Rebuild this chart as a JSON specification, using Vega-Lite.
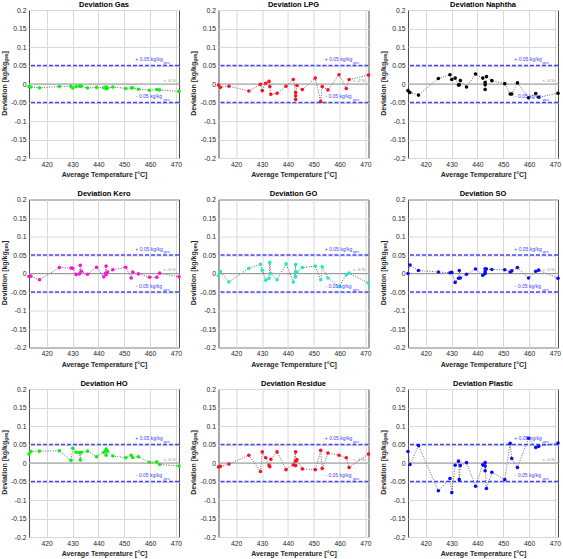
{
"$schema": "https://vega.github.io/schema/vega-lite/v6.json",
"padding": {"left": 0, "top": 0, "right": 0, "bottom": 0},
"background": "white",
"data": {"values": [
{"p":"Gas","x":413.15,"y":-0.007},{"p":"Gas","x":413.9,"y":-0.008},{"p":"Gas","x":417.2,"y":-0.010},{"p":"Gas","x":424.9,"y":-0.007},{"p":"Gas","x":429.4,"y":-0.006},{"p":"Gas","x":430.1,"y":-0.011},{"p":"Gas","x":431.4,"y":-0.007},{"p":"Gas","x":432.7,"y":-0.006},{"p":"Gas","x":433.0,"y":-0.005},{"p":"Gas","x":433.4,"y":-0.006},{"p":"Gas","x":435.8,"y":-0.011},{"p":"Gas","x":439.3,"y":-0.009},{"p":"Gas","x":442.1,"y":-0.010},{"p":"Gas","x":443.0,"y":-0.008},{"p":"Gas","x":443.0,"y":-0.011},{"p":"Gas","x":443.0,"y":-0.013},{"p":"Gas","x":443.5,"y":-0.011},{"p":"Gas","x":445.6,"y":-0.008},{"p":"Gas","x":450.6,"y":-0.012},{"p":"Gas","x":452.7,"y":-0.011},{"p":"Gas","x":453.3,"y":-0.010},{"p":"Gas","x":455.5,"y":-0.014},{"p":"Gas","x":459.8,"y":-0.017},{"p":"Gas","x":462.6,"y":-0.015},{"p":"Gas","x":463.7,"y":-0.016},{"p":"Gas","x":471.2,"y":-0.020},
{"p":"LPG","x":413.15,"y":-0.003},{"p":"LPG","x":413.9,"y":-0.009},{"p":"LPG","x":417.2,"y":-0.006},{"p":"LPG","x":424.9,"y":-0.019},{"p":"LPG","x":429.4,"y":-0.001},{"p":"LPG","x":430.1,"y":-0.018},{"p":"LPG","x":431.4,"y":0.002},{"p":"LPG","x":432.7,"y":0.007},{"p":"LPG","x":433.0,"y":-0.007},{"p":"LPG","x":433.4,"y":-0.028},{"p":"LPG","x":435.8,"y":-0.025},{"p":"LPG","x":439.3,"y":-0.006},{"p":"LPG","x":442.1,"y":0.012},{"p":"LPG","x":443.0,"y":-0.023},{"p":"LPG","x":443.0,"y":-0.032},{"p":"LPG","x":443.0,"y":-0.042},{"p":"LPG","x":443.5,"y":-0.004},{"p":"LPG","x":445.6,"y":-0.015},{"p":"LPG","x":450.6,"y":0.016},{"p":"LPG","x":452.7,"y":-0.047},{"p":"LPG","x":453.3,"y":-0.007},{"p":"LPG","x":455.5,"y":-0.016},{"p":"LPG","x":459.8,"y":0.025},{"p":"LPG","x":462.6,"y":-0.012},{"p":"LPG","x":463.7,"y":0.012},{"p":"LPG","x":471.2,"y":0.024},
{"p":"Naphtha","x":413.15,"y":-0.018},{"p":"Naphtha","x":413.9,"y":-0.023},{"p":"Naphtha","x":417.2,"y":-0.030},{"p":"Naphtha","x":424.9,"y":0.015},{"p":"Naphtha","x":429.4,"y":0.025},{"p":"Naphtha","x":430.1,"y":0.012},{"p":"Naphtha","x":431.4,"y":0.016},{"p":"Naphtha","x":432.7,"y":-0.003},{"p":"Naphtha","x":433.0,"y":-0.002},{"p":"Naphtha","x":433.4,"y":0.009},{"p":"Naphtha","x":435.8,"y":-0.008},{"p":"Naphtha","x":439.3,"y":0.027},{"p":"Naphtha","x":442.1,"y":0.016},{"p":"Naphtha","x":443.0,"y":0.004},{"p":"Naphtha","x":443.0,"y":-0.002},{"p":"Naphtha","x":443.0,"y":-0.015},{"p":"Naphtha","x":443.5,"y":0.020},{"p":"Naphtha","x":445.6,"y":0.009},{"p":"Naphtha","x":450.6,"y":0.001},{"p":"Naphtha","x":452.7,"y":-0.027},{"p":"Naphtha","x":453.3,"y":-0.027},{"p":"Naphtha","x":455.5,"y":0.003},{"p":"Naphtha","x":459.8,"y":-0.037},{"p":"Naphtha","x":462.6,"y":-0.026},{"p":"Naphtha","x":463.7,"y":-0.036},{"p":"Naphtha","x":471.2,"y":-0.025},
{"p":"Kero","x":413.15,"y":-0.008},{"p":"Kero","x":413.9,"y":-0.007},{"p":"Kero","x":417.2,"y":-0.017},{"p":"Kero","x":424.9,"y":0.016},{"p":"Kero","x":429.4,"y":0.015},{"p":"Kero","x":430.1,"y":0.014},{"p":"Kero","x":431.4,"y":-0.003},{"p":"Kero","x":432.7,"y":-0.001},{"p":"Kero","x":433.0,"y":0.022},{"p":"Kero","x":433.4,"y":0.006},{"p":"Kero","x":435.8,"y":-0.002},{"p":"Kero","x":439.3,"y":0.017},{"p":"Kero","x":442.1,"y":-0.009},{"p":"Kero","x":443.0,"y":0.020},{"p":"Kero","x":443.0,"y":-0.003},{"p":"Kero","x":443.0,"y":0.001},{"p":"Kero","x":443.5,"y":0.004},{"p":"Kero","x":445.6,"y":0.010},{"p":"Kero","x":450.6,"y":0.017},{"p":"Kero","x":452.7,"y":-0.012},{"p":"Kero","x":453.3,"y":0.004},{"p":"Kero","x":455.5,"y":-0.001},{"p":"Kero","x":459.8,"y":-0.010},{"p":"Kero","x":462.6,"y":-0.010},{"p":"Kero","x":463.7,"y":0.001},{"p":"Kero","x":471.2,"y":-0.009},
{"p":"GO","x":413.15,"y":-0.006},{"p":"GO","x":413.9,"y":0.005},{"p":"GO","x":417.2,"y":-0.023},{"p":"GO","x":424.9,"y":0.014},{"p":"GO","x":429.4,"y":0.025},{"p":"GO","x":430.1,"y":0.009},{"p":"GO","x":431.4,"y":-0.018},{"p":"GO","x":432.7,"y":-0.013},{"p":"GO","x":433.0,"y":0.030},{"p":"GO","x":433.4,"y":0.000},{"p":"GO","x":435.8,"y":-0.017},{"p":"GO","x":439.3,"y":0.026},{"p":"GO","x":442.1,"y":-0.023},{"p":"GO","x":443.0,"y":0.024},{"p":"GO","x":443.0,"y":-0.009},{"p":"GO","x":443.0,"y":0.003},{"p":"GO","x":443.5,"y":0.004},{"p":"GO","x":445.6,"y":0.016},{"p":"GO","x":450.6,"y":0.020},{"p":"GO","x":452.7,"y":-0.017},{"p":"GO","x":453.3,"y":0.018},{"p":"GO","x":455.5,"y":-0.012},{"p":"GO","x":459.8,"y":-0.035},{"p":"GO","x":462.6,"y":-0.003},{"p":"GO","x":463.7,"y":0.001},{"p":"GO","x":471.2,"y":-0.026},
{"p":"SO","x":413.15,"y":0.000},{"p":"SO","x":413.9,"y":0.023},{"p":"SO","x":417.2,"y":0.008},{"p":"SO","x":424.9,"y":0.004},{"p":"SO","x":429.4,"y":0.002},{"p":"SO","x":430.1,"y":0.003},{"p":"SO","x":431.4,"y":-0.024},{"p":"SO","x":432.7,"y":-0.013},{"p":"SO","x":433.0,"y":0.008},{"p":"SO","x":433.4,"y":-0.012},{"p":"SO","x":435.8,"y":-0.002},{"p":"SO","x":439.3,"y":0.012},{"p":"SO","x":442.1,"y":-0.005},{"p":"SO","x":443.0,"y":0.000},{"p":"SO","x":443.0,"y":0.005},{"p":"SO","x":443.0,"y":0.013},{"p":"SO","x":443.5,"y":0.012},{"p":"SO","x":445.6,"y":0.011},{"p":"SO","x":450.6,"y":0.010},{"p":"SO","x":452.7,"y":0.004},{"p":"SO","x":453.3,"y":0.007},{"p":"SO","x":455.5,"y":0.016},{"p":"SO","x":459.8,"y":-0.012},{"p":"SO","x":462.6,"y":0.006},{"p":"SO","x":463.7,"y":0.009},{"p":"SO","x":471.2,"y":-0.013},
{"p":"HO","x":413.15,"y":0.024},{"p":"HO","x":413.9,"y":0.031},{"p":"HO","x":417.2,"y":0.032},{"p":"HO","x":424.9,"y":0.033},{"p":"HO","x":429.4,"y":0.007},{"p":"HO","x":430.1,"y":0.040},{"p":"HO","x":431.4,"y":0.029},{"p":"HO","x":432.7,"y":0.028},{"p":"HO","x":433.0,"y":0.008},{"p":"HO","x":433.4,"y":0.029},{"p":"HO","x":435.8,"y":0.032},{"p":"HO","x":439.3,"y":0.017},{"p":"HO","x":442.1,"y":0.029},{"p":"HO","x":443.0,"y":0.038},{"p":"HO","x":443.0,"y":0.034},{"p":"HO","x":443.0,"y":0.021},{"p":"HO","x":443.5,"y":0.032},{"p":"HO","x":445.6,"y":0.019},{"p":"HO","x":450.6,"y":0.014},{"p":"HO","x":452.7,"y":0.021},{"p":"HO","x":453.3,"y":0.015},{"p":"HO","x":455.5,"y":0.017},{"p":"HO","x":459.8,"y":0.002},{"p":"HO","x":462.6,"y":0.003},{"p":"HO","x":463.7,"y":-0.004},{"p":"HO","x":471.2,"y":-0.008},
{"p":"Residue","x":413.15,"y":-0.011},{"p":"Residue","x":413.9,"y":-0.009},{"p":"Residue","x":417.2,"y":-0.003},{"p":"Residue","x":424.9,"y":0.021},{"p":"Residue","x":429.4,"y":-0.023},{"p":"Residue","x":430.1,"y":0.030},{"p":"Residue","x":431.4,"y":0.014},{"p":"Residue","x":432.7,"y":-0.006},{"p":"Residue","x":433.0,"y":-0.010},{"p":"Residue","x":433.4,"y":0.010},{"p":"Residue","x":435.8,"y":0.030},{"p":"Residue","x":439.3,"y":-0.018},{"p":"Residue","x":442.1,"y":-0.005},{"p":"Residue","x":443.0,"y":0.030},{"p":"Residue","x":443.0,"y":-0.007},{"p":"Residue","x":443.0,"y":0.005},{"p":"Residue","x":443.5,"y":0.009},{"p":"Residue","x":445.6,"y":-0.016},{"p":"Residue","x":450.6,"y":-0.018},{"p":"Residue","x":452.7,"y":0.034},{"p":"Residue","x":453.3,"y":-0.015},{"p":"Residue","x":455.5,"y":0.027},{"p":"Residue","x":459.8,"y":0.021},{"p":"Residue","x":462.6,"y":0.014},{"p":"Residue","x":463.7,"y":-0.012},{"p":"Residue","x":471.2,"y":0.024},
{"p":"Plastic","x":413.15,"y":0.031},{"p":"Plastic","x":413.9,"y":-0.004},{"p":"Plastic","x":417.2,"y":0.047},{"p":"Plastic","x":424.9,"y":-0.075},{"p":"Plastic","x":429.4,"y":-0.042},{"p":"Plastic","x":430.1,"y":-0.080},{"p":"Plastic","x":431.4,"y":-0.006},{"p":"Plastic","x":432.7,"y":0.005},{"p":"Plastic","x":433.0,"y":-0.045},{"p":"Plastic","x":433.4,"y":-0.007},{"p":"Plastic","x":435.8,"y":0.001},{"p":"Plastic","x":439.3,"y":-0.063},{"p":"Plastic","x":442.1,"y":-0.005},{"p":"Plastic","x":443.0,"y":-0.008},{"p":"Plastic","x":443.0,"y":-0.021},{"p":"Plastic","x":443.0,"y":0.001},{"p":"Plastic","x":443.5,"y":-0.069},{"p":"Plastic","x":445.6,"y":-0.025},{"p":"Plastic","x":450.6,"y":-0.045},{"p":"Plastic","x":452.7,"y":0.053},{"p":"Plastic","x":453.3,"y":0.012},{"p":"Plastic","x":455.5,"y":-0.012},{"p":"Plastic","x":459.8,"y":0.067},{"p":"Plastic","x":462.6,"y":0.042},{"p":"Plastic","x":463.7,"y":0.045},{"p":"Plastic","x":471.2,"y":0.054}
]},
"facet": {"field": "p", "type": "nominal", "sort": ["Gas","LPG","Naphtha","Kero","GO","SO","HO","Residue","Plastic"],
  "header": {"title": null, "labelExpr": "'Deviation ' + datum.value", "labelFont": "Liberation Sans", "labelFontWeight": "bold", "labelFontSize": 7.5, "labelColor": "#000000", "labelPadding": -1}},
"columns": 3,
"spacing": {"row": 10.5, "column": 6.5},
"resolve": {"axis": {"x": "independent", "y": "independent"}},
"spec": {
  "width": 150, "height": 148,
  "layer": [
    {"mark": {"type": "line", "color": "#505050", "strokeWidth": 0.9, "strokeDash": [1, 1.5]},
     "encoding": {
       "x": {"field": "x", "type": "quantitative", "scale": {"domain": [413.15, 471.2], "nice": false, "zero": false},
             "axis": {"values": [420, 430, 440, 450, 460, 470], "tickCount": 6, "labelOverlap": false, "grid": true, "title": "Average Temperature [°C]", "titlePadding": 3, "labelPadding": 3}},
       "y": {"field": "y", "type": "quantitative", "scale": {"domain": [-0.2, 0.2], "nice": false, "zero": false},
             "axis": {"values": [-0.2, -0.15, -0.1, -0.05, 0, 0.05, 0.1, 0.15, 0.2], "tickCount": 9, "labelOverlap": false, "grid": true, "title": null, "labelPadding": 3,
                      "labelExpr": "toString(round(datum.value * 100) / 100)"}}}},
    {"transform": [{"filter": "datum.x > 471"}],
     "mark": {"type": "rule", "color": "#9a9a9a", "strokeWidth": 1.2},
     "encoding": {"y": {"datum": 0}}},
    {"transform": [{"filter": "datum.x > 471"}],
     "mark": {"type": "rule", "color": "#4545ff", "strokeWidth": 1.3, "strokeDash": [4, 2]},
     "encoding": {"y": {"datum": 0.05}}},
    {"transform": [{"filter": "datum.x > 471"}],
     "mark": {"type": "rule", "color": "#4545ff", "strokeWidth": 1.3, "strokeDash": [4, 2]},
     "encoding": {"y": {"datum": -0.05}}},
    {"mark": {"type": "point", "filled": true, "shape": "circle", "size": 13, "opacity": 1},
     "encoding": {
       "x": {"field": "x", "type": "quantitative"},
       "y": {"field": "y", "type": "quantitative"},
       "color": {"field": "p", "type": "nominal", "legend": null,
                 "scale": {"domain": ["Gas","LPG","Naphtha","Kero","GO","SO","HO","Residue","Plastic"],
                           "range": ["#10f010","#ff1020","#000000","#ff10d8","#20e8c8","#0a0aff","#10f010","#ff1020","#0a0aff"]}}}},
    {"transform": [{"filter": "datum.x > 471"}],
     "mark": {"type": "text", "color": "#4040ff", "fontSize": 5, "align": "left", "baseline": "alphabetic"},
     "encoding": {"x": {"datum": 454.3}, "y": {"datum": 0.062}, "text": {"value": "+ 0.05 kg/kg"}}},
    {"transform": [{"filter": "datum.x > 471"}],
     "mark": {"type": "text", "color": "#4040ff", "fontSize": 3.8, "align": "left", "baseline": "alphabetic"},
     "encoding": {"x": {"datum": 465.2}, "y": {"datum": 0.0546}, "text": {"value": "ges"}}},
    {"transform": [{"filter": "datum.x > 471"}],
     "mark": {"type": "text", "color": "#4040ff", "fontSize": 5, "align": "left", "baseline": "alphabetic"},
     "encoding": {"x": {"datum": 454.5}, "y": {"datum": -0.039}, "text": {"value": "- 0.05 kg/kg"}}},
    {"transform": [{"filter": "datum.x > 471"}],
     "mark": {"type": "text", "color": "#4040ff", "fontSize": 3.8, "align": "left", "baseline": "alphabetic"},
     "encoding": {"x": {"datum": 465.2}, "y": {"datum": -0.046}, "text": {"value": "ges"}}},
    {"transform": [{"filter": "datum.x > 471"}],
     "mark": {"type": "text", "color": "#777777", "fontSize": 4.2, "align": "left", "baseline": "middle"},
     "encoding": {"x": {"datum": 465.2}, "y": {"datum": 0.0083}, "text": {"value": "<- 0 %"}}},
    {"transform": [{"filter": "datum.x > 471"}],
     "mark": {"type": "text", "color": "#262626", "fontSize": 7, "fontWeight": "bold", "align": "left", "baseline": "middle", "angle": 270, "clip": false},
     "encoding": {"x": {"datum": 403.85}, "y": {"datum": -0.086}, "text": {"value": "Deviation [kg/kg"}}},
    {"transform": [{"filter": "datum.x > 471"}],
     "mark": {"type": "text", "color": "#262626", "fontSize": 4.8, "fontWeight": "bold", "align": "left", "baseline": "middle", "angle": 270, "clip": false},
     "encoding": {"x": {"datum": 404.6}, "y": {"datum": 0.060}, "text": {"value": "ges"}}},
    {"transform": [{"filter": "datum.x > 471"}],
     "mark": {"type": "text", "color": "#262626", "fontSize": 7, "fontWeight": "bold", "align": "left", "baseline": "middle", "angle": 270, "clip": false},
     "encoding": {"x": {"datum": 403.85}, "y": {"datum": 0.0824}, "text": {"value": "]"}}}
  ]
},
"config": {
  "font": "Liberation Sans",
  "view": {"stroke": "#4d4d4d", "strokeWidth": 1},
  "axis": {"domain": false, "grid": true, "gridColor": "#d8d8d8", "gridWidth": 1, "ticks": false, "labelOverlap": false,
           "labelFont": "Liberation Sans", "labelFontSize": 6.8, "labelColor": "#262626",
           "titleFont": "Liberation Sans", "titleFontSize": 7, "titleFontWeight": "bold", "titleColor": "#262626"}
}
}
